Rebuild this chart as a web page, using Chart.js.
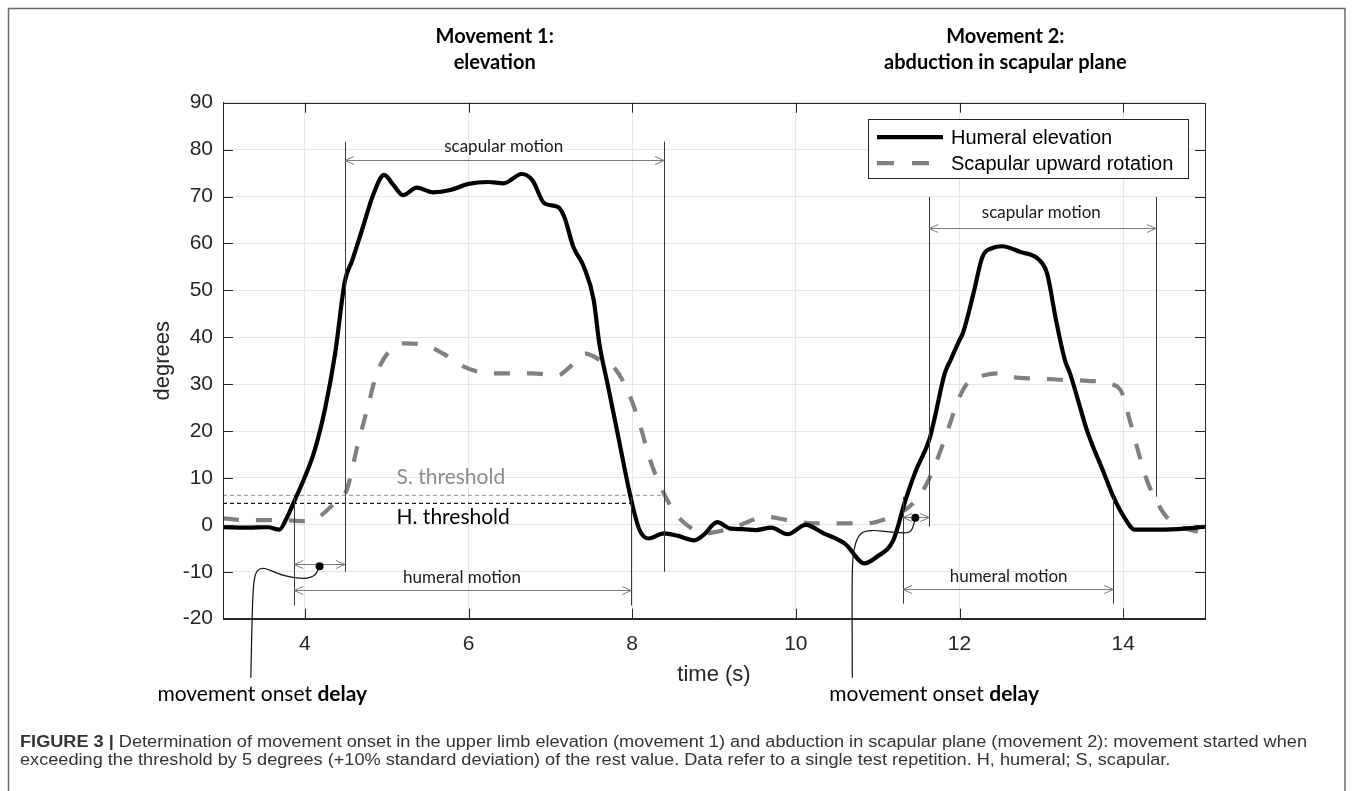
<!DOCTYPE html>
<html>
<head>
<meta charset="utf-8">
<script src="https://cdn.jsdelivr.net/npm/chart.js@4.4.1/dist/chart.umd.min.js"></script>
<style>
html, body { margin: 0; padding: 0; background: #fff; }
#fig { position: relative; width: 1357px; height: 791px; overflow: hidden; }
canvas { position: absolute; left: 0; top: 0; }
</style>
</head>
<body>
<div id="fig"><canvas id="chart" width="1357" height="791"></canvas></div>
<script>
// humeral elevation (solid) and scapular upward rotation (dashed)
var humeralTime = [3.0, 3.3, 3.55, 3.69, 3.78, 3.86, 4.0, 4.12, 4.25, 4.37, 4.49, 4.58, 4.71, 4.84, 4.97, 5.08, 5.2, 5.37, 5.56, 5.78, 6.0, 6.24, 6.43, 6.65, 6.78, 6.93, 7.09, 7.17, 7.28, 7.41, 7.53, 7.6, 7.7, 7.83, 7.98, 8.09, 8.2, 8.39, 8.55, 8.76, 8.87, 9.04, 9.2, 9.35, 9.51, 9.7, 9.9, 10.12, 10.34, 10.6, 10.84, 10.99, 11.19, 11.34, 11.47, 11.63, 11.69, 11.82, 11.89, 12.0, 12.04, 12.17, 12.28, 12.4, 12.52, 12.74, 12.98, 13.07, 13.18, 13.29, 13.35, 13.57, 13.75, 13.88, 14.01, 14.14, 14.45, 14.75, 15.0];
var humeralDeg = [-0.5, -0.6, -0.5, -1.0, 1.5, 4.6, 10.2, 15.9, 25.0, 36.5, 52.0, 56.4, 63.5, 70.6, 74.6, 72.5, 70.3, 71.9, 70.9, 71.4, 72.7, 73.1, 72.8, 74.8, 73.5, 68.5, 67.8, 65.7, 59.3, 55.0, 47.9, 38.5, 30.0, 18.8, 6.0, -1.1, -2.9, -1.8, -2.3, -3.3, -2.2, 0.6, -0.8, -0.9, -1.1, -0.6, -2.0, 0.0, -1.8, -4.0, -8.2, -6.8, -3.3, 5.3, 11.7, 18.1, 22.3, 32.3, 35.1, 39.4, 40.8, 49.3, 57.1, 59.0, 59.4, 58.2, 56.4, 53.6, 43.6, 35.0, 32.3, 19.5, 11.7, 6.0, 1.7, -1.0, -1.0, -0.8, -0.4];

var scapularTime = [3.0, 3.3, 3.73, 3.99, 4.17, 4.36, 4.51, 4.64, 4.77, 4.88, 5.04, 5.21, 5.47, 5.69, 5.91, 6.13, 6.35, 6.78, 7.09, 7.26, 7.43, 7.61, 7.79, 7.96, 8.09, 8.22, 8.35, 8.53, 8.76, 8.87, 9.2, 9.64, 9.9, 10.16, 10.51, 10.86, 11.12, 11.3, 11.47, 11.6, 11.74, 11.87, 12.0, 12.13, 12.3, 12.48, 12.7, 13.0, 13.27, 13.57, 13.83, 13.99, 14.07, 14.18, 14.29, 14.4, 14.53, 14.71, 15.0];
var scapularDeg = [1.4, 1.0, 1.0, 0.8, 1.7, 4.6, 7.4, 16.6, 25.2, 32.3, 37.2, 38.7, 38.3, 36.5, 34.0, 32.6, 32.3, 32.3, 31.9, 34.0, 36.5, 35.1, 33.3, 28.0, 21.6, 13.8, 8.1, 2.4, -1.1, -1.8, -0.8, 1.7, 1.0, 0.4, 0.3, 0.3, 1.4, 2.8, 5.3, 8.8, 14.5, 20.9, 27.3, 30.9, 31.9, 32.3, 31.4, 31.2, 30.9, 30.7, 30.1, 28.0, 23.0, 15.9, 9.5, 5.3, 1.7, -0.4, -1.8];

var seriesNames = ['Humeral elevation', 'Scapular upward rotation'];
var xTickValues = [4, 6, 8, 10, 12, 14];
var yTickValues = [-20, -10, 0, 10, 20, 30, 40, 50, 60, 70, 80, 90];

// annotation geometry, in data units (time s, degrees)
var thresholds = [
    { label: 'S. threshold', value: 6.3, end: 8.39, color: '#a6a6a6', textColor: '#8c8c8c', textY: 10.1 },
    { label: 'H. threshold', value: 4.6, end: 7.99, color: '#1a1a1a', textColor: '#000', textY: 1.7 }
];
var thresholdTextX = 5.12;
var markerLines = [[4.49, 81.7, -10], [8.39, 81.7, -10], [3.87, 6, -17.2], [7.99, 6, -17.2],
    [11.63, 69.9, -0.4], [14.40, 69.9, 6], [11.31, 6, -16.8], [13.88, 6, -16.8]];
var spanArrows = [[4.49, 8.39, 77.8], [3.87, 7.99, -13.8], [3.87, 4.49, -8.4],
    [11.63, 14.40, 63.2], [11.31, 13.88, -13.6], [11.31, 11.63, 1.7]];
var spanLabels = [['scapular motion', 6.43, 80.6], ['humeral motion', 5.92, -11.2],
    ['scapular motion', 13.0, 66.5], ['humeral motion', 12.6, -11.1]];
var leaders = [
    [[4.18, -8.8], [4.12, -10.7], [3.99, -11.4], [3.73, -10.7], [3.51, -9.3], [3.42, -9.8], [3.38, -12], [3.36, -17.5], [3.34, -32.6]],
    [[11.46, 1.5], [11.39, -1.5], [11.15, -1.5], [10.95, -1.2], [10.8, -1.8], [10.72, -4.7], [10.69, -10.4], [10.69, -32.6]]
];
var onsetLabels = [[3.48, -36.2], [11.69, -36.2]];
var movementTitles = [['Movement 1:', 'elevation', 6.32], ['Movement 2:', 'abduction in scapular plane', 12.56]];

var captionBold = 'FIGURE 3 | ';
var captionLines = ['Determination of movement onset in the upper limb elevation (movement 1) and abduction in scapular plane (movement 2): movement started when',
    'exceeding the threshold by 5 degrees (+10% standard deviation) of the rest value. Data refer to a single test repetition. H, humeral; S, scapular.'];

function zip(xs, ys) {
    return xs.map(function (x, i) { return { x: x, y: ys[i] }; });
}

function smoothPath(ctx, pts) {
    ctx.beginPath();
    ctx.moveTo(pts[0][0], pts[0][1]);
    for (var i = 0; i < pts.length - 1; i++) {
        var p0 = pts[i - 1] || pts[i], p1 = pts[i], p2 = pts[i + 1], p3 = pts[i + 2] || p2;
        ctx.bezierCurveTo(p1[0] + (p2[0] - p0[0]) / 6, p1[1] + (p2[1] - p0[1]) / 6,
            p2[0] - (p3[0] - p1[0]) / 6, p2[1] - (p3[1] - p1[1]) / 6, p2[0], p2[1]);
    }
    ctx.stroke();
}

function arrowHead(ctx, x, y, dir) {
    ctx.beginPath();
    ctx.moveTo(x + dir * 9, y - 4);
    ctx.lineTo(x, y);
    ctx.lineTo(x + dir * 9, y + 4);
    ctx.stroke();
}

var LABEL_FONT = 'Lato, "Liberation Sans", sans-serif';
var AXIS_FONT = '"Liberation Sans", Arial, sans-serif';

var decor = {
    id: 'decor',
    beforeDraw: function (chart) {
        var ctx = chart.ctx;
        ctx.save();
        ctx.fillStyle = '#fff';
        ctx.fillRect(0, 0, chart.width, chart.height);
        ctx.strokeStyle = '#6b6b6b';
        ctx.lineWidth = 1.5;
        ctx.strokeRect(8.5, 8.5, 1336.5, 820);

        // caption
        ctx.fillStyle = '#333';
        ctx.textBaseline = 'middle';
        ctx.font = 'bold 16px ' + AXIS_FONT;
        var bw = ctx.measureText(captionBold).width;
        ctx.font = '16px ' + AXIS_FONT;
        var sx = 1287 / (bw + ctx.measureText(captionLines[0]).width);
        ctx.translate(20, 743);
        ctx.scale(sx, 1);
        ctx.font = 'bold 16px ' + AXIS_FONT;
        ctx.fillText(captionBold, 0, 0);
        ctx.font = '16px ' + AXIS_FONT;
        ctx.fillText(captionLines[0], bw, 0);
        ctx.fillText(captionLines[1], 0, 18);
        ctx.restore();
    },
    beforeDatasetsDraw: function (chart) {
        var ctx = chart.ctx, x = chart.scales.x, y = chart.scales.y;
        ctx.save();
        ctx.lineWidth = 1.2;
        ctx.setLineDash([4, 3]);
        thresholds.forEach(function (t) {
            ctx.strokeStyle = t.color;
            ctx.beginPath();
            ctx.moveTo(x.getPixelForValue(3), y.getPixelForValue(t.value));
            ctx.lineTo(x.getPixelForValue(t.end), y.getPixelForValue(t.value));
            ctx.stroke();
        });
        ctx.setLineDash([]);
        ctx.font = '21px ' + LABEL_FONT;
        ctx.textBaseline = 'middle';
        thresholds.forEach(function (t) {
            ctx.fillStyle = t.textColor;
            ctx.fillText(t.label, x.getPixelForValue(thresholdTextX), y.getPixelForValue(t.textY));
        });
        ctx.restore();
    },
    afterDatasetsDraw: function (chart) {
        var ctx = chart.ctx, x = chart.scales.x, y = chart.scales.y, a = chart.chartArea;
        ctx.save();

        // box and inward ticks
        ctx.strokeStyle = '#262626';
        ctx.lineWidth = 1;
        ctx.strokeRect(Math.round(a.left) + 0.5, Math.round(a.top) + 0.5, Math.round(a.right - a.left), Math.round(a.bottom - a.top));
        ctx.beginPath();
        xTickValues.forEach(function (v) {
            var px = Math.round(x.getPixelForValue(v)) + 0.5;
            ctx.moveTo(px, a.top); ctx.lineTo(px, a.top + 10);
            ctx.moveTo(px, a.bottom); ctx.lineTo(px, a.bottom - 10);
        });
        yTickValues.forEach(function (v) {
            var py = Math.round(y.getPixelForValue(v)) + 0.5;
            ctx.moveTo(a.left, py); ctx.lineTo(a.left + 10, py);
            ctx.moveTo(a.right, py); ctx.lineTo(a.right - 10, py);
        });
        ctx.stroke();

        // marker lines
        ctx.strokeStyle = '#3a3a3a';
        ctx.lineWidth = 1;
        ctx.beginPath();
        markerLines.forEach(function (m) {
            var px = Math.round(x.getPixelForValue(m[0])) + 0.5;
            ctx.moveTo(px, y.getPixelForValue(m[1]));
            ctx.lineTo(px, y.getPixelForValue(m[2]));
        });
        ctx.stroke();

        // span arrows
        ctx.strokeStyle = '#7a7a7a';
        spanArrows.forEach(function (s) {
            var x0 = x.getPixelForValue(s[0]), x1 = x.getPixelForValue(s[1]), py = Math.round(y.getPixelForValue(s[2])) + 0.5;
            ctx.beginPath();
            ctx.moveTo(x0, py); ctx.lineTo(x1, py);
            ctx.stroke();
            arrowHead(ctx, x0, py, 1);
            arrowHead(ctx, x1, py, -1);
        });

        ctx.fillStyle = '#1a1a1a';
        ctx.font = '17px ' + LABEL_FONT;
        ctx.textAlign = 'center';
        ctx.textBaseline = 'middle';
        spanLabels.forEach(function (l) {
            ctx.fillText(l[0], x.getPixelForValue(l[1]), y.getPixelForValue(l[2]));
        });

        // leader curves to the onset labels
        ctx.strokeStyle = '#111';
        ctx.lineWidth = 1.2;
        leaders.forEach(function (pts) {
            var p = pts.map(function (d) { return [x.getPixelForValue(d[0]), y.getPixelForValue(d[1])]; });
            smoothPath(ctx, p);
            ctx.fillStyle = '#000';
            ctx.beginPath();
            ctx.arc(p[0][0], p[0][1], 4, 0, Math.PI * 2);
            ctx.fill();
        });

        ctx.fillStyle = '#000';
        ctx.textAlign = 'left';
        onsetLabels.forEach(function (o) {
            ctx.font = '21px ' + LABEL_FONT;
            var w1 = ctx.measureText('movement onset ').width;
            ctx.font = 'bold 21px ' + LABEL_FONT;
            var w2 = ctx.measureText('delay').width;
            var left = x.getPixelForValue(o[0]) - (w1 + w2) / 2, py = y.getPixelForValue(o[1]);
            ctx.font = '21px ' + LABEL_FONT;
            ctx.fillText('movement onset ', left, py);
            ctx.font = 'bold 21px ' + LABEL_FONT;
            ctx.fillText('delay', left + w1, py);
        });

        // movement titles
        ctx.textAlign = 'center';
        ctx.font = 'bold 20px ' + LABEL_FONT;
        movementTitles.forEach(function (t) {
            var px = x.getPixelForValue(t[2]);
            ctx.fillText(t[0], px, a.top - 66);
            ctx.fillText(t[1], px, a.top - 40);
        });

        // legend inside the axes
        var lx = a.right - 337, ly = a.top + 16.5, lw = 320, lh = 59;
        ctx.fillStyle = '#fff';
        ctx.fillRect(lx, ly, lw, lh);
        ctx.strokeStyle = '#262626';
        ctx.lineWidth = 1;
        ctx.strokeRect(Math.round(lx) + 0.5, Math.round(ly) + 0.5, lw, lh);
        chart.data.datasets.forEach(function (ds, i) {
            var rowY = ly + 18 + i * 26;
            ctx.strokeStyle = ds.borderColor;
            ctx.lineWidth = ds.borderWidth;
            ctx.setLineDash(ds.borderDash ? [17, 18] : []);
            ctx.beginPath();
            ctx.moveTo(lx + 9, rowY);
            ctx.lineTo(lx + 75, rowY);
            ctx.stroke();
            ctx.setLineDash([]);
            ctx.fillStyle = '#000';
            ctx.textAlign = 'left';
            ctx.font = '20px ' + AXIS_FONT;
            ctx.fillText(ds.label, lx + 83, rowY + 1);
        });
        ctx.restore();
    }
};

new Chart(document.getElementById('chart'), {
    type: 'line',
    data: {
        datasets: [{
            label: seriesNames[0],
            data: zip(humeralTime, humeralDeg),
            borderColor: '#000',
            borderWidth: 4.2,
            pointRadius: 0,
            cubicInterpolationMode: 'monotone',
            borderJoinStyle: 'round'
        }, {
            label: seriesNames[1],
            data: zip(scapularTime, scapularDeg),
            borderColor: '#808080',
            borderWidth: 4.2,
            borderDash: [16, 17],
            pointRadius: 0,
            cubicInterpolationMode: 'monotone'
        }]
    },
    options: {
        responsive: false,
        animation: false,
        events: [],
        layout: { padding: { left: 0, top: 102.7, right: 152, bottom: 0 } },
        plugins: { legend: { display: false }, tooltip: { enabled: false } },
        scales: {
            x: {
                type: 'linear',
                min: 3,
                max: 15,
                afterBuildTicks: function (s) { s.ticks = xTickValues.map(function (v) { return { value: v }; }); },
                afterFit: function (s) { s.height = 172.3; },
                grid: { color: '#e6e6e6', drawTicks: false },
                border: { color: '#262626' },
                ticks: { color: '#262626', padding: 13, maxRotation: 0, font: { family: AXIS_FONT, size: 21 } },
                title: { display: true, text: 'time (s)', color: '#262626', font: { family: AXIS_FONT, size: 22 }, padding: { top: 0, bottom: 102.8 } }
            },
            y: {
                min: -20,
                max: 90,
                afterBuildTicks: function (s) { s.ticks = yTickValues.map(function (v) { return { value: v }; }); },
                afterFit: function (s) { s.width = 223; },
                grid: { color: '#e6e6e6', drawTicks: false },
                border: { color: '#262626' },
                ticks: { color: '#262626', padding: 10, font: { family: AXIS_FONT, size: 21 } },
                title: { display: true, text: 'degrees', color: '#262626', font: { family: AXIS_FONT, size: 22 }, padding: { top: 149.8, bottom: 0 } }
            }
        }
    },
    plugins: [decor]
});
</script>
</body>
</html>
